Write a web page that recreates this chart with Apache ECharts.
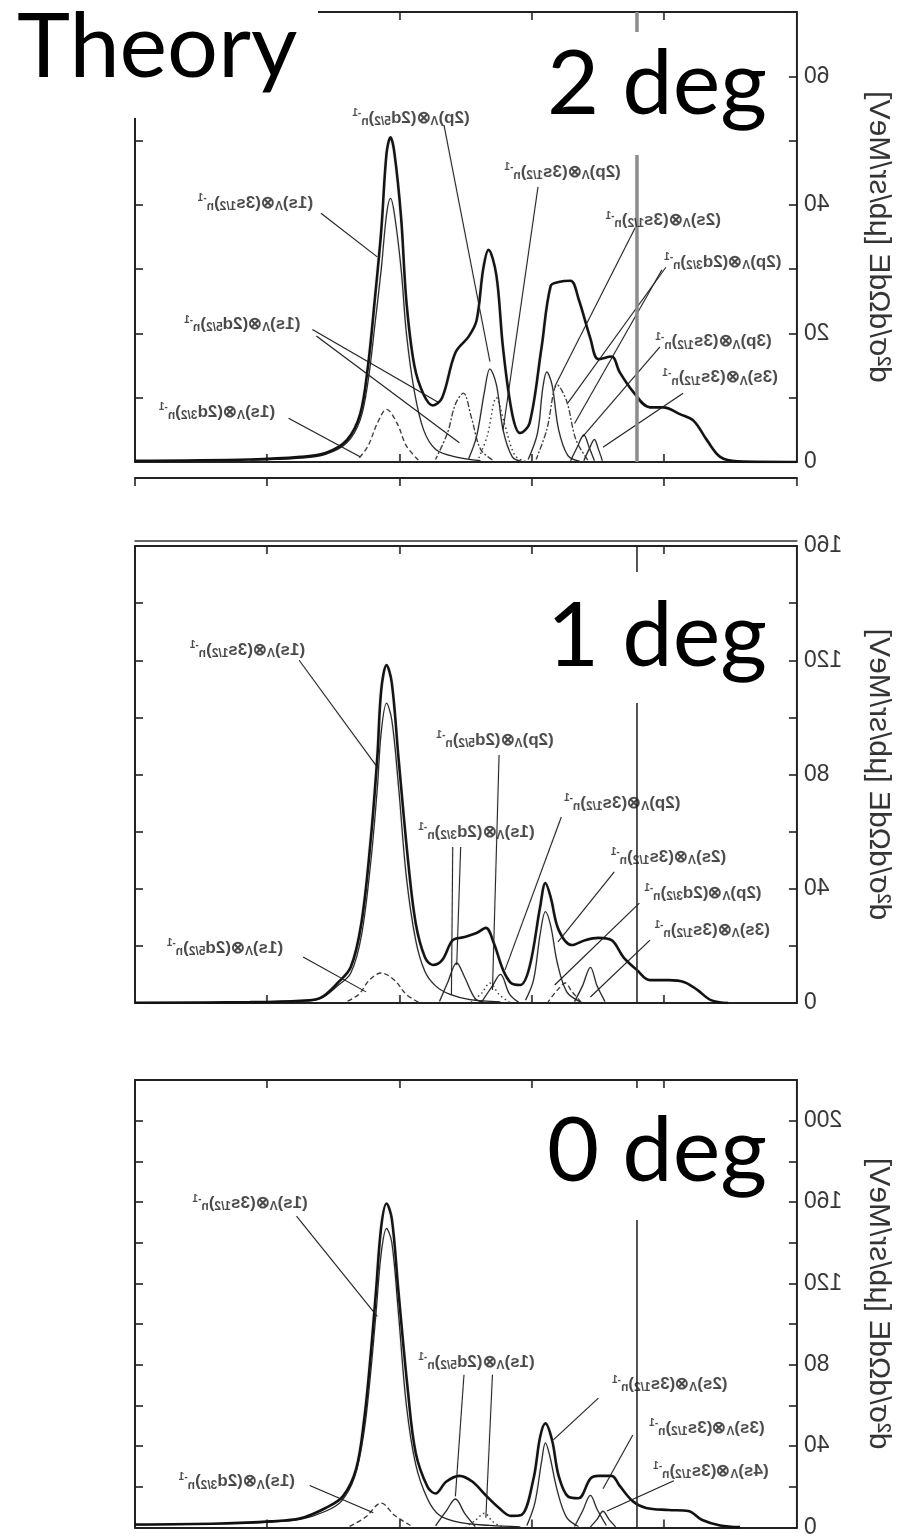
<!DOCTYPE html>
<html>
<head>
<meta charset="utf-8">
<script src="https://cdn.jsdelivr.net/npm/echarts@6/dist/echarts.min.js"></script>
<style>
    html, body { margin: 0; padding: 0; background: #fff; }
    #wrap { position: relative; width: 908px; height: 1539px; overflow: hidden; }
    /* the scanned figure is a mirror image, so the plot layer is flipped */
    #chart { position: absolute; left: 0; top: 0; width: 908px; height: 1539px; transform: scaleX(-1); }
    #over { position: absolute; left: 0; top: 0; width: 908px; height: 1539px; pointer-events: none; }
</style>
</head>
<body>
<div id="wrap"><div id="chart"></div><div id="over"></div></div>
<script>
    // energy axis (unlabelled in the scan), 0..50, threshold marker
    const xTicks = [0, 10, 20, 30, 40, 50];
    const threshold = 12.1;

    const yMax = [70, 160, 220];
    const yStep = [10, 20, 20];
    const yLabelStep = [20, 40, 40];
    const panelTitles = ['2 deg', '1 deg', '0 deg'];

    // ---- 2 deg ----
    const total2 = [[0,0],[4.5,0.1],[5.8,0.8],[6.8,3.4],[7.8,6.4],[8.8,7.4],[10.1,8.5],[11.1,8.5],[12.4,11],[13.4,14],[14.0,16.4],
        [15.0,16],[15.6,19.2],[16.5,25.4],[17.1,28.2],[18.0,28],[18.6,27.4],[19.3,17.7],[20.2,6],[20.9,4.5],[21.5,7.4],[22.2,17.7],
        [22.7,29],[23.3,33],[23.7,30],[24.2,22],[24.8,19.5],[25.8,17],[26.8,10],[27.5,8.8],[28.2,10.5],[28.9,15],[29.5,25],[29.9,38],
        [30.4,48],[30.7,50.5],[31.0,48],[31.4,36],[31.9,25],[32.4,15],[33.0,7.4],[34.0,3.4],[35.6,1.4],[37.5,0.8],[41.3,0.4],[50,0.2]];
    const s1s3s_2 = [[23.9,0.2],[25.8,0.8],[27.3,2],[28.2,5],[28.9,11],[29.5,20],[29.9,30],[30.4,38.5],[30.7,41],[31.0,38.5],
        [31.4,30],[31.9,21],[32.4,12.5],[33.0,6.5],[34.0,3],[35.6,1.2],[37.5,0.6],[41.3,0.3]];
    const s1s2d5_2 = [[28.6,0.3],[29.5,2.5],[30.2,6],[31.0,8.2],[31.7,6],[32.4,2.5],[33.2,0.3]];
    const s1s2d3_2 = [[23.0,0.3],[23.9,2],[24.6,7],[25.2,10.7],[25.8,9],[26.4,4.5],[27.3,0.4]];
    const s2p3s_2 = [[20.8,0.1],[21.5,0.8],[22.2,5],[22.7,12],[23.2,14.5],[23.6,11],[24.2,4],[24.8,0.5]];
    const s2p2d5_2 = [[20.5,0.1],[21.3,1],[22.1,6],[22.7,10],[23.4,4],[24.1,0.3]];
    const s2s3s_2 = [[16.4,0.1],[17.3,1],[18.0,5],[18.5,12],[18.9,14],[19.2,11.5],[19.6,4.5],[20.3,0.4]];
    const s2p2d3_2 = [[15.8,0.3],[16.7,3.5],[17.4,9.5],[18.1,12],[18.9,5],[19.7,0.4]];
    const s3p3s_2 = [[15.3,0.2],[15.7,2.3],[16.1,4.2],[16.6,2.3],[17.1,0.2]];
    const s3s3s_2 = [[14.7,0.2],[15.0,2],[15.3,3.5],[15.7,2],[16.1,0.2]];

    // ---- 1 deg ----
    const total1 = [[5.2,0],[6.5,1],[7.5,4.5],[8.5,7.3],[9.7,8],[11.1,8],[12.1,11.6],[13.1,16],[14.0,22],[15.0,22.8],[16.0,22],
        [17.0,20.3],[18.0,25.6],[18.6,37],[19.0,42],[19.4,33.6],[20.2,12.6],[20.9,6.3],[21.6,7],[22.2,11.6],[22.9,21],[23.5,26.3],
        [24.2,24.5],[25.2,23],[26.0,22],[26.8,15],[27.5,13.3],[28.1,16],[28.8,28],[29.4,51],[30.1,86],[30.6,112],[31.0,118.3],
        [31.4,109.6],[31.7,86],[32.2,57],[32.9,28],[33.7,12.6],[34.7,7],[36.0,1.8],[37.5,0.8],[41.3,0.3],[50,0.1]];
    const s1s3s_1 = [[22.4,0.4],[24.7,1.2],[26.2,3],[27.3,6],[28.1,11],[28.8,22],[29.5,44],[30.1,76],[30.6,99],[31.0,105],
        [31.4,95],[31.7,75],[32.2,49],[32.9,23.5],[33.7,10.5],[34.7,6],[36.0,1.5],[37.5,0.6],[41.3,0.2]];
    const s1s2d5_1 = [[28.6,0.3],[29.5,3],[30.4,8],[31.4,10.5],[32.3,8],[33.1,3],[34.1,0.3]];
    const s1s2d3_1 = [[23.6,0.2],[24.3,1.5],[25.1,9],[25.7,14],[26.4,7],[27.0,0.5]];
    const s2p2d5_1 = [[21.7,0.2],[22.5,3],[23.2,7],[23.8,3.5],[24.6,0.3]];
    const s2p3s_1 = [[21.0,0.2],[21.7,3],[22.4,10],[23.0,6],[23.8,0.5]];
    const s2s3s_1 = [[16.4,0.5],[17.4,4],[18.1,14],[18.6,27],[19.0,32],[19.4,24],[19.9,8],[20.5,1]];
    const s2p2d3_1 = [[16.3,0.3],[17.0,4],[17.5,7],[18.1,4.5],[18.8,0.4]];
    const s3s3s_1 = [[14.5,0.5],[15.1,6],[15.6,12.5],[16.2,6],[16.8,0.5]];

    // ---- 0 deg ----
    const total0 = [[4.3,0.2],[5.8,1],[7.2,3.8],[8.2,8.1],[9.7,8.6],[11.4,9.6],[12.4,12.9],[13.4,20.6],[14.0,25.4],[15.0,25.4],
        [15.6,24],[16.5,14.4],[17.3,15.3],[18.0,25.4],[18.5,43],[19.0,51.2],[19.4,44.5],[19.9,24],[20.8,6.2],[21.6,5.7],[22.5,9.6],
        [23.5,15.8],[24.5,22.5],[25.5,25.4],[26.5,22.5],[27.3,16.7],[27.9,20],[28.8,36.8],[29.4,68],[30.1,116],[30.6,151.7],
        [31.0,159.3],[31.4,148],[31.8,116],[32.2,84.7],[32.7,52.6],[33.3,28.7],[34.3,15.3],[35.6,9.6],[37.5,4.5],[39.8,3],[43.6,2],[50,1.5]];
    const s1s3s_0 = [[20.9,0.3],[23.2,1],[25.5,2.5],[27.0,6],[27.9,14],[28.8,31],[29.5,60],[30.1,105],[30.6,140],[31.0,147],
        [31.4,135],[31.8,105],[32.2,76],[32.7,47],[33.4,25],[34.4,13],[35.6,8],[37.5,4],[39.8,2.6],[43.6,1.8],[50,1.3]];
    const s1s2d3_0 = [[29.2,1],[30.4,6],[31.4,12],[32.6,5],[33.8,0.5]];
    const s1s2d5_0 = [[24.3,0.5],[25.1,7],[25.8,14],[26.5,8],[27.3,0.8]];
    const sDot_0 = [[22.3,0.3],[23.0,3],[23.6,7],[24.3,3.5],[25.0,0.3]];
    const s2s3s_0 = [[16.5,0.5],[17.4,5],[18.1,18],[18.7,36],[19.0,41.6],[19.3,32],[19.8,12],[20.4,1]];
    const s3s3s_0 = [[14.4,1],[15.1,9],[15.6,15.8],[16.2,8],[16.8,0.5]];
    const s4s3s_0 = [[13.7,0.3],[14.2,4],[14.65,8],[15.1,4],[15.6,0.3]];

    // labels: [Λ orbit, hole orbit, hole j, x, y]; leaders: [x1, y1, x2, y2]
    const labels2 = [['2p','2d','5/2',29.15,53.5],['2p','3s','1/2',17.7,45.1],['1s','3s','1/2',40.9,40.3],
        ['2s','3s','1/2',10.1,37.6],['2p','2d','3/2',5.6,31.1],['1s','2d','5/2',41.9,21.4],
        ['3p','3s','1/2',6.3,18.7],['3s','3s','1/2',5.8,13.1],['1s','2d','3/2',43.8,7.8]];
    const leaders2 = [[26.66,52.4,23.19,15.6],[19.56,42.8,22.2,5.0],[35.95,38.7,31.7,31.9],[12.2,36.5,18.3,11.7],
        [9.9,30.3,17.3,9.2],[10.2,29.9,16.8,6.0],[36.6,20.6,27.1,9.3],[36.3,19.6,25.5,3.0],
        [10.35,17.9,16.2,3.9],[8.6,10.7,14.65,2.3],[38.4,6.8,33.0,0.8]];

    const labels1 = [['1s','3s','1/2',41.5,123.6],['2p','2d','5/2',22.8,92],['2p','3s','1/2',13.2,70],
        ['1s','2d','3/2',24.2,59.9],['2s','3s','1/2',9.7,51.1],['2p','2d','3/2',7.1,38.5],
        ['3s','3s','1/2',6.4,25.6],['1s','2d','5/2',43.2,19.3]];
    const leaders1 = [[37.6,120,31.7,82.6],[22.5,86.8,23.0,4.6],[17.8,65.1,22.05,11.6],[26.0,54.6,26.1,2.8],
        [25.4,54.6,25.7,13.3],[13.8,45.9,18.05,21.4],[11.9,35,18.3,6.3],[11.1,22,15.6,2.1],[37.3,16.1,32.55,3.9]];

    const labels0 = [['1s','3s','1/2',41.3,159.3],['1s','2d','5/2',24.2,81.3],['2s','3s','1/2',9.6,70.3],
        ['3s','3s','1/2',6.8,48.8],['4s','3s','1/2',6.5,27.8],['1s','2d','3/2',42.3,22.5]];
    const leaders0 = [[37.8,153.1,31.7,103.8],[25.15,75.1,25.8,15.3],[23.0,75.1,23.5,4.8],[15.0,63.6,18.4,43.1],
        [12.4,45.5,14.65,19.1],[9.3,23,14.35,8.1],[36.8,20.6,32.0,7.2]];

    const gridTop = [12, 546, 1080];
    const gridHeight = [450, 457, 460];
    const ink = '#1c1c1c';
    const font = 'Liberation Sans';

    const styles = {
        total: {width: 2.6, type: 'solid', color: '#111'},
        thin: {width: 1.3, type: 'solid', color: '#222'},
        dash: {width: 1.3, type: [5, 3], color: '#333'},
        dot: {width: 1.4, type: [1.5, 3], color: '#333'},
        dashdot: {width: 1.3, type: [6, 2, 2, 2], color: '#333'}
    };

    function curve(g, data, kind) {
        const s = styles[kind];
        return {
            type: 'line', xAxisIndex: g * 2, yAxisIndex: g * 2, data: data, smooth: 0.35, symbol: 'none', silent: true,
            lineStyle: {width: s.width, type: s.type, color: s.color}, z: kind === 'total' ? 4 : 3
        };
    }

    function tag(l) {
        return '(' + l[0] + '){s|Λ}⊗(' + l[1] + '{s|' + l[2] + '}){s|n}{p|-1}';
    }

    function notes(g, labels, leaders, vlineColor, vlineWidth) {
        return {
            type: 'scatter', xAxisIndex: g * 2, yAxisIndex: g * 2, silent: true, symbolSize: 1,
            itemStyle: {color: 'rgba(0,0,0,0)'}, z: 6,
            data: labels.map(l => ({value: [l[3], l[4]], name: tag(l)})),
            label: {
                show: true, position: 'inside', formatter: p => p.name,
                fontFamily: font, fontSize: 17, fontWeight: 'bold', color: ink, lineHeight: 19,
                rich: {
                    s: {fontFamily: font, fontSize: 12, fontWeight: 'bold', color: ink, verticalAlign: 'bottom', lineHeight: 19},
                    p: {fontFamily: font, fontSize: 10, fontWeight: 'bold', color: ink, verticalAlign: 'top', lineHeight: 19}
                }
            },
            markLine: {
                silent: true, symbol: 'none', animation: false, label: {show: false},
                lineStyle: {color: ink, width: 1.1, type: 'solid'},
                data: leaders.map(d => [{coord: [d[0], d[1]]}, {coord: [d[2], d[3]]}])
                    .concat([[{coord: [threshold, 0], lineStyle: {color: vlineColor, width: vlineWidth}},
                        {coord: [threshold, yMax[g]]}]])
            }
        };
    }

    const grids = [], xAxes = [], yAxes = [];
    const frameLine = {show: true, onZero: false, lineStyle: {color: '#222', width: 2}};
    const inTick = {show: true, inside: true, length: 8, lineStyle: {color: '#222', width: 1.6}};
    for (let g = 0; g < 3; g++) {
        grids.push({left: 111, right: 135, top: gridTop[g], height: gridHeight[g]});
        ['bottom', 'top'].forEach(pos => xAxes.push({
            gridIndex: g, type: 'value', position: pos, min: 0, max: 50, interval: 10,
            axisLine: frameLine, axisTick: inTick, axisLabel: {show: false}, splitLine: {show: false}
        }));
        yAxes.push({
            gridIndex: g, type: 'value', position: 'left', min: 0, max: yMax[g], interval: yStep[g],
            axisLine: frameLine, axisTick: inTick, splitLine: {show: false},
            axisLabel: {
                margin: 7, fontFamily: font, fontSize: 23, color: '#333', padding: [0, 0, 10, 0],
                formatter: v => (v % yLabelStep[g] === 0 ? String(v) : '')
            },
            name: 'd²σ/dΩdE [μb/sr/MeV]', nameLocation: 'middle', nameGap: 66,
            nameTextStyle: {fontFamily: font, fontSize: 30, color: '#333'}
        });
        yAxes.push({
            gridIndex: g, type: 'value', position: 'right', min: 0, max: yMax[g], interval: yStep[g],
            axisLine: frameLine, axisTick: inTick, axisLabel: {show: false}, splitLine: {show: false}
        });
    }
    // stray frame edges of the neighbouring scanned panel
    grids.push({left: 111, right: 135, top: 478, height: 63});
    xAxes.push({gridIndex: 3, type: 'value', position: 'top', min: 0, max: 50, interval: 10,
        axisLine: frameLine, axisTick: inTick, axisLabel: {show: false}, splitLine: {show: false}});
    xAxes.push({gridIndex: 3, type: 'value', position: 'bottom', min: 0, max: 50, interval: 10,
        axisLine: {show: true, onZero: false, lineStyle: {color: '#333', width: 1.5}}, axisTick: {show: false},
        axisLabel: {show: false}, splitLine: {show: false}});
    yAxes.push({gridIndex: 3, type: 'value', min: 0, max: 1, show: false});

    const series = [
        curve(0, s1s3s_2, 'thin'), curve(0, s1s2d5_2, 'dash'), curve(0, s1s2d3_2, 'dashdot'), curve(0, s2p3s_2, 'thin'),
        curve(0, s2p2d5_2, 'dot'), curve(0, s2s3s_2, 'thin'), curve(0, s2p2d3_2, 'dashdot'), curve(0, s3p3s_2, 'thin'),
        curve(0, s3s3s_2, 'thin'), curve(0, total2, 'total'),
        notes(0, labels2, leaders2, '#8a8a8a', 3.5),

        curve(1, s1s3s_1, 'thin'), curve(1, s1s2d5_1, 'dash'), curve(1, s1s2d3_1, 'thin'), curve(1, s2p2d5_1, 'dot'),
        curve(1, s2p3s_1, 'thin'), curve(1, s2s3s_1, 'thin'), curve(1, s2p2d3_1, 'dash'), curve(1, s3s3s_1, 'thin'),
        curve(1, total1, 'total'),
        notes(1, labels1, leaders1, '#222', 1.6),

        curve(2, s1s3s_0, 'thin'), curve(2, s1s2d3_0, 'dash'), curve(2, s1s2d5_0, 'thin'), curve(2, sDot_0, 'dot'),
        curve(2, s2s3s_0, 'thin'), curve(2, s3s3s_0, 'thin'), curve(2, s4s3s_0, 'thin'), curve(2, total0, 'total'),
        notes(2, labels0, leaders0, '#222', 1.6)
    ];

    const chart = echarts.init(document.getElementById('chart'));
    chart.setOption({animation: false, backgroundColor: '#fff', grid: grids, xAxis: xAxes, yAxis: yAxes, series: series});

    // unmirrored captions pasted over the scan
    const boxes = [[0, 0, 318, 118], [545, 32, 230, 123], [560, 572, 220, 131], [550, 1088, 225, 132]];
    const captionY = [48, 85, 637, 1152];
    const over = echarts.init(document.getElementById('over'));
    const graphic = boxes.map(b => ({type: 'rect', shape: {x: b[0], y: b[1], width: b[2], height: b[3]}, style: {fill: '#fff'}, z: 1}));
    graphic.push({type: 'text', z: 2, style: {text: 'Theory', x: 17, y: captionY[0], font: '90px Lato', fill: '#000', align: 'left', verticalAlign: 'middle'}});
    panelTitles.forEach((t, i) => graphic.push({
        type: 'text', z: 2,
        style: {text: t, x: 767, y: captionY[i + 1], font: '90px Lato', fill: '#000', align: 'right', verticalAlign: 'middle'}
    }));
    over.setOption({animation: false, graphic: graphic});
</script>
</body>
</html>
